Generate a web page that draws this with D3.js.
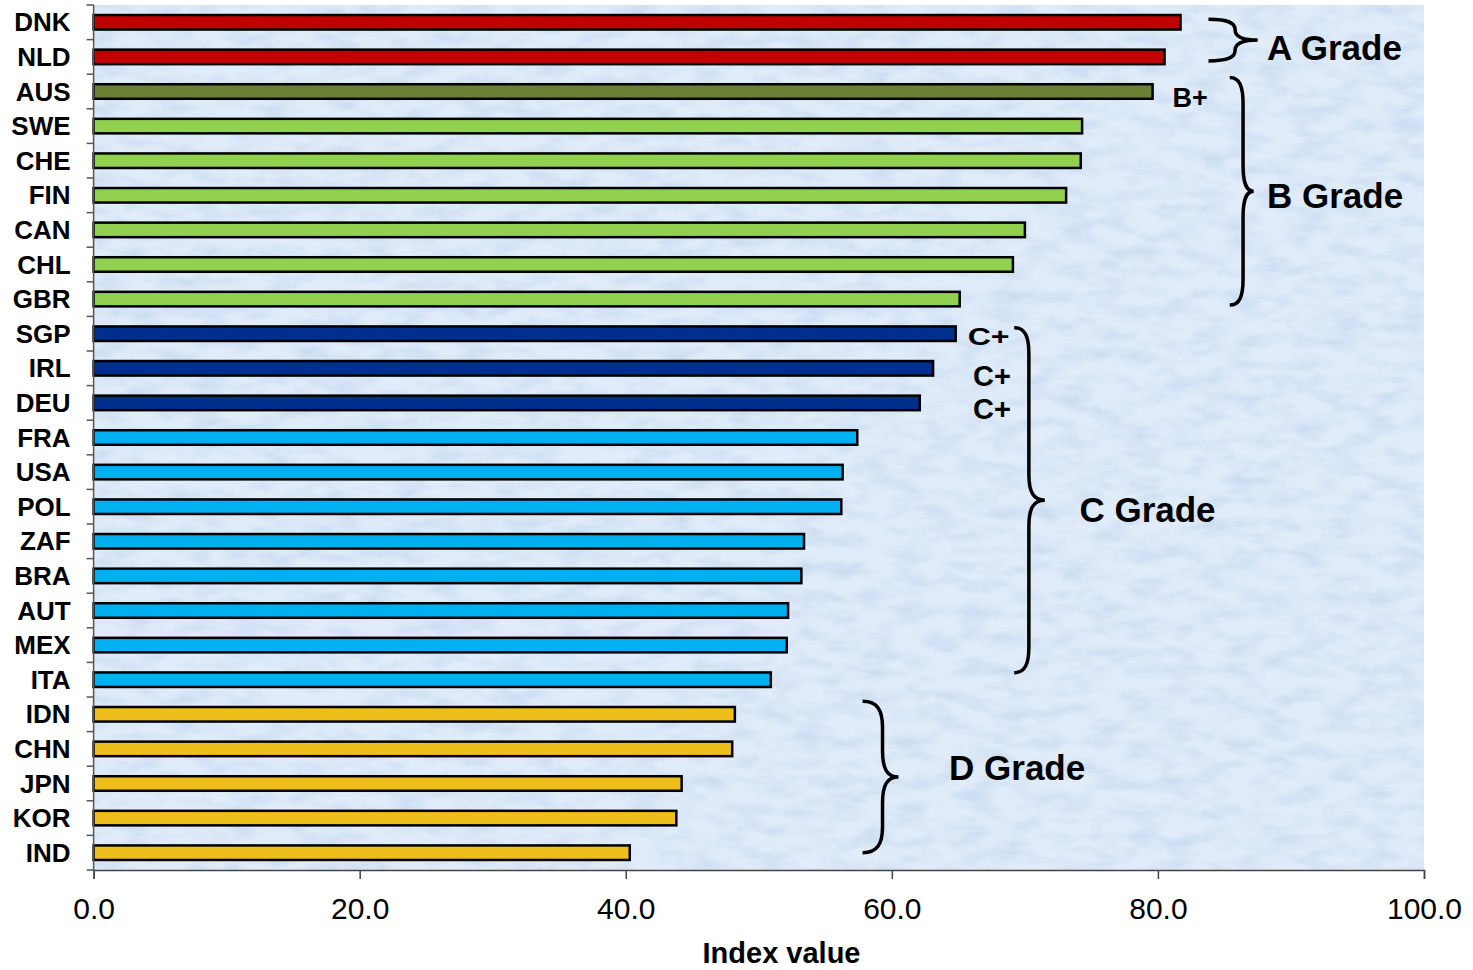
<!DOCTYPE html>
<html>
<head>
<meta charset="utf-8">
<script src="https://cdn.jsdelivr.net/npm/d3@7"></script>
<style>
  body { margin: 0; background: #fff; }
  text { font-family: "Liberation Sans", Arial, sans-serif; }
</style>
</head>
<body>
<div id="chart-area"></div>
<script>
// Países y valores del índice
var countries = ["DNK", "NLD", "AUS", "SWE", "CHE", "FIN", "CAN", "CHL", "GBR", "SGP",
                 "IRL", "DEU", "FRA", "USA", "POL", "ZAF", "BRA", "AUT", "MEX", "ITA",
                 "IDN", "CHN", "JPN", "KOR", "IND"];
var values = [81.7, 80.5, 79.6, 74.3, 74.2, 73.1, 70.0, 69.1, 65.1, 64.8,
              63.1, 62.1, 57.4, 56.3, 56.2, 53.4, 53.2, 52.2, 52.1, 50.9,
              48.2, 48.0, 44.2, 43.8, 40.3];
var grades = ["A", "A", "B+", "B", "B", "B", "B", "B", "B", "C+",
              "C+", "C+", "C", "C", "C", "C", "C", "C", "C", "C",
              "D", "D", "D", "D", "D"];
var xTicks = [0, 20, 40, 60, 80, 100];

// Colores por grado
var gradeColor = {
    "A": "#C00000", "B+": "#6A8135", "B": "#92D050",
    "C+": "#002F8E", "C": "#00B0F0", "D": "#EEBF1B"
};

var data = countries.map(function(c, i) {
    return { country: c, value: values[i], grade: grades[i] };
});

var W = 1473, H = 970;
var margin = { top: 5, left: 93.6, right: 49, bottom: 100 };
var plotW = W - margin.left - margin.right,
    plotH = H - margin.top - margin.bottom;

var svg = d3.select("#chart-area").append("svg")
    .attr("width", W)
    .attr("height", H);

// Textura del fondo
var defs = svg.append("defs");
var filt = defs.append("filter").attr("id", "tex")
    .attr("color-interpolation-filters", "sRGB")
    .attr("x", 0).attr("y", 0).attr("width", 1).attr("height", 1);
filt.append("feTurbulence")
    .attr("type", "fractalNoise")
    .attr("baseFrequency", "0.03 0.07")
    .attr("numOctaves", 4)
    .attr("seed", 7)
    .attr("result", "noise");
filt.append("feColorMatrix")
    .attr("in", "noise")
    .attr("type", "matrix")
    .attr("values", "0 0 0 0 0.75  0 0 0 0 0.83  0 0 0 0 0.93  1.3 0 0 0 -0.5");

var g = svg.append("g")
    .attr("transform", "translate(" + margin.left + "," + margin.top + ")");

g.append("rect")
    .attr("width", plotW).attr("height", plotH)
    .attr("fill", "#E0ECF9");
g.append("rect")
    .attr("width", plotW).attr("height", plotH)
    .attr("fill", "#fff")
    .attr("filter", "url(#tex)");

// Escalas
var x = d3.scaleLinear().domain([0, 100]).range([0, plotW]);
var y = d3.scaleBand().domain(countries).range([0, plotH])
    .paddingInner(0.58).paddingOuter(0.29);

// Barras
g.selectAll("rect.bar")
    .data(data)
    .enter().append("rect")
    .attr("class", "bar")
    .attr("x", 0)
    .attr("y", function(d) { return y(d.country); })
    .attr("width", function(d) { return x(d.value); })
    .attr("height", y.bandwidth())
    .attr("fill", function(d) { return gradeColor[d.grade]; })
    .attr("stroke", "#000")
    .attr("stroke-width", 2.5);

// Eje Y: etiquetas
var yAxis = g.append("g")
    .call(d3.axisLeft(y).tickSize(0).tickPadding(23));
yAxis.select(".domain").remove();
yAxis.selectAll("text")
    .attr("fill", "#000")
    .style("font-size", "26px")
    .style("font-weight", "bold")
    .attr("dy", "0.35em");

// Eje Y: línea y marcas entre categorías
g.append("line")
    .attr("x1", 0).attr("x2", 0).attr("y1", 0).attr("y2", plotH)
    .attr("stroke", "#555").attr("stroke-width", 1.5);
g.selectAll("line.ytick")
    .data(d3.range(countries.length + 1))
    .enter().append("line")
    .attr("class", "ytick")
    .attr("x1", -7).attr("x2", 0)
    .attr("y1", function(i) { return i * y.step(); })
    .attr("y2", function(i) { return i * y.step(); })
    .attr("stroke", "#555").attr("stroke-width", 1.5);

// Eje X
var xAxis = g.append("g")
    .attr("transform", "translate(0," + plotH + ")")
    .call(d3.axisBottom(x).tickValues(xTicks).tickSize(9).tickPadding(19)
        .tickFormat(d3.format(".1f")));
xAxis.select(".domain").attr("stroke", "#444").attr("stroke-width", 1.5);
xAxis.selectAll(".tick line").attr("stroke", "#444").attr("stroke-width", 1.5);
xAxis.selectAll("text")
    .attr("fill", "#000")
    .style("font-size", "30px");

svg.append("text")
    .attr("x", 781.5)
    .attr("y", 963)
    .attr("text-anchor", "middle")
    .style("font-size", "29px")
    .style("font-weight", "bold")
    .text("Index value");

// Llaves de agrupación
function brace(top, bottom, x0, xm, xt) {
    var mid = (top + bottom) / 2,
        r = Math.min(26, (bottom - top) / 4),
        a = xm - x0, b = xt - xm;
    return "M" + x0 + "," + top +
        "C" + (x0 + a * 0.75) + "," + top + " " + xm + "," + (top + r * 0.35) + " " + xm + "," + (top + r) +
        "L" + xm + "," + (mid - r) +
        "C" + xm + "," + (mid - r * 0.3) + " " + (xm + b * 0.3) + "," + mid + " " + xt + "," + mid +
        "C" + (xm + b * 0.3) + "," + mid + " " + xm + "," + (mid + r * 0.3) + " " + xm + "," + (mid + r) +
        "L" + xm + "," + (bottom - r) +
        "C" + xm + "," + (bottom - r * 0.35) + " " + (x0 + a * 0.75) + "," + bottom + " " + x0 + "," + bottom;
}
function center(c) { return y(c) + y.bandwidth() / 2; }

var braces = [
    { from: "DNK", to: "NLD", dy0: -3, dy1: 4, x0: 83.8, xm: 85.8, xt: 87.5 },
    { from: "AUS", to: "GBR", dy0: -14, dy1: 6, x0: 85.4, xm: 86.4, xt: 87.2 },
    { from: "SGP", to: "ITA", dy0: -6, dy1: -7, x0: 69.2, xm: 70.3, xt: 71.5 },
    { from: "IDN", to: "IND", dy0: -13, dy1: 0, x0: 57.8, xm: 59.3, xt: 60.5 }
];
g.selectAll("path.brace")
    .data(braces)
    .enter().append("path")
    .attr("class", "brace")
    .attr("d", function(b) {
        return brace(center(b.from) + b.dy0, center(b.to) + b.dy1, x(b.x0), x(b.xm), x(b.xt));
    })
    .attr("fill", "none")
    .attr("stroke", "#000")
    .attr("stroke-width", 3.5);

// Etiquetas de grado
var labels = [
    { text: "A Grade", xv: 88.2, yy: 55, size: 35 },
    { text: "B Grade", xv: 88.2, yy: 203, size: 35 },
    { text: "C Grade", xv: 74.1, yy: 517, size: 35 },
    { text: "D Grade", xv: 64.3, yy: 775, size: 35 },
    { text: "B+", xv: 81.1, yy: 102, size: 27 },
    { text: "C+", xv: 65.7, yy: 340, size: 24, len: 42 },
    { text: "C+", xv: 66.1, yy: 381, size: 29 },
    { text: "C+", xv: 66.1, yy: 414, size: 29 }
];
g.selectAll("text.grade")
    .data(labels)
    .enter().append("text")
    .attr("class", "grade")
    .attr("x", function(d) { return x(d.xv); })
    .attr("y", function(d) { return d.yy; })
    .attr("textLength", function(d) { return d.len || null; })
    .attr("lengthAdjust", "spacingAndGlyphs")
    .style("font-size", function(d) { return d.size + "px"; })
    .style("font-weight", "bold")
    .text(function(d) { return d.text; });
</script>
</body>
</html>
